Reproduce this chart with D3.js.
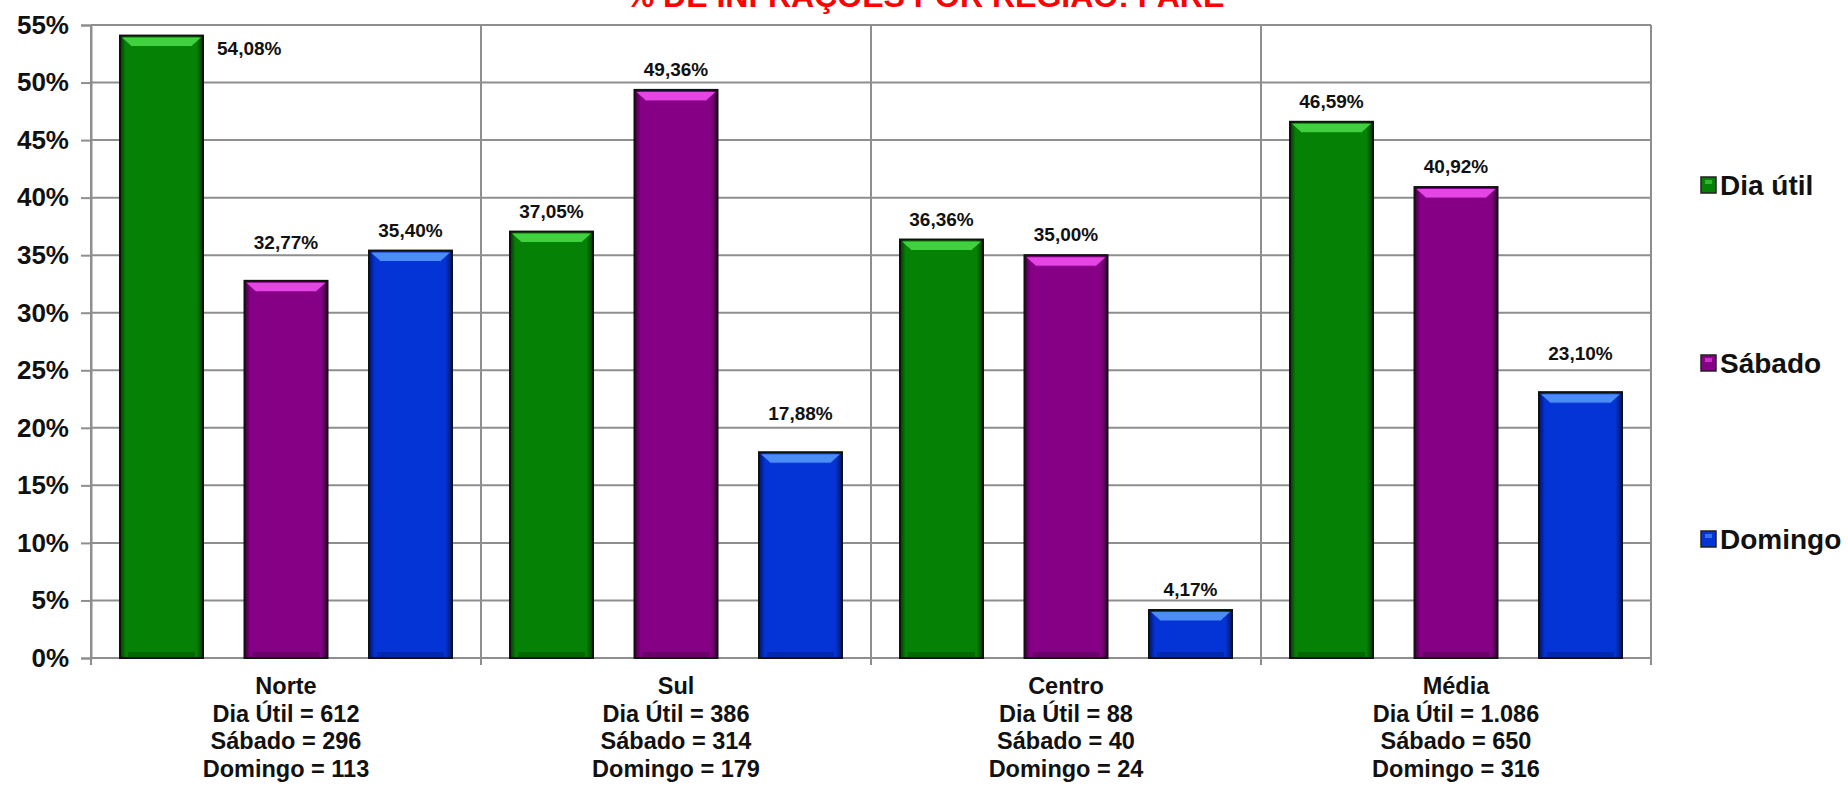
<!DOCTYPE html>
<html>
<head>
<meta charset="utf-8">
<script src="https://cdn.jsdelivr.net/npm/d3@7"></script>
<style>
  html, body { margin: 0; padding: 0; background: #fff; }
  svg { display: block; font-family: "Liberation Sans", Arial, sans-serif; font-weight: bold; }
</style>
</head>
<body>
<script>
// ---- data ----
const categories = ["Norte", "Sul", "Centro", "Média"];
const series = ["Dia útil", "Sábado", "Domingo"];
const diaUtil = [54.08, 37.05, 36.36, 46.59];
const sabado = [32.77, 49.36, 35.00, 40.92];
const domingo = [35.40, 17.88, 4.17, 23.10];
const countDiaUtil = ["612", "386", "88", "1.086"];
const countSabado = ["296", "314", "40", "650"];
const countDomingo = ["113", "179", "24", "316"];
const yTicks = [0, 5, 10, 15, 20, 25, 30, 35, 40, 45, 50, 55];
const title = "% DE INFRAÇÕES POR REGIÃO: PARE";

// labels that sit higher than the others, and the one set beside its bar
const raisedLabels = ["Norte|Sábado", "Sul|Domingo", "Média|Domingo"];
const sideLabels = ["Norte|Dia útil"];

const colors = {
  "Dia útil": { base: "#058205", light: "#40d040", dark: "#013a01" },
  "Sábado": { base: "#850085", light: "#e645e6", dark: "#3a003a" },
  "Domingo": { base: "#0433d6", light: "#4c8cf5", dark: "#011660" }
};

const values = { "Dia útil": diaUtil, "Sábado": sabado, "Domingo": domingo };

const width = 1848, height = 789;
const plotLeft = 91, plotRight = 1651, plotTop = 25, plotBottom = 658;

const locale = d3.formatLocale({ decimal: ",", thousands: ".", grouping: [3], currency: ["", ""] });
const fmt = locale.format(".2f");

const svg = d3.select("body").append("svg")
  .attr("width", width)
  .attr("height", height);

const defs = svg.append("defs");
series.forEach((s, i) => {
  const g = defs.append("linearGradient").attr("id", "grad" + i)
    .attr("x1", 0).attr("x2", 1).attr("y1", 0).attr("y2", 0);
  g.append("stop").attr("offset", "0%").attr("stop-color", colors[s].dark);
  g.append("stop").attr("offset", "7%").attr("stop-color", colors[s].base);
  g.append("stop").attr("offset", "92%").attr("stop-color", colors[s].base);
  g.append("stop").attr("offset", "100%").attr("stop-color", colors[s].dark);
});

// scales
const x0 = d3.scaleBand().domain(categories).range([plotLeft, plotRight]);
const groupW = 373.5;
const x1 = d3.scaleBand().domain(series).range([0, groupW]).paddingInner(1 / 3).paddingOuter(1 / 6);
const groupOff = (x0.bandwidth() - groupW) / 2;
const y = d3.scaleLinear().domain([0, 55]).range([plotBottom, plotTop]);

const grid = "#8e8e8e";

// horizontal gridlines
svg.append("g").selectAll("line")
  .data(yTicks)
  .join("line")
  .attr("x1", plotLeft).attr("x2", plotRight)
  .attr("y1", d => y(d)).attr("y2", d => y(d))
  .attr("stroke", grid).attr("stroke-width", 2);

// category separators + plot border
const vx = categories.map(c => x0(c)).concat([plotRight]);
svg.append("g").selectAll("line")
  .data(vx)
  .join("line")
  .attr("x1", d => d).attr("x2", d => d)
  .attr("y1", plotTop).attr("y2", plotBottom + 7)
  .attr("stroke", grid).attr("stroke-width", 2);

// y axis
const yAxis = svg.append("g")
  .attr("transform", `translate(${plotLeft},0)`)
  .call(d3.axisLeft(y).tickValues(yTicks).tickFormat(d => d + "%").tickSize(10).tickPadding(12));
yAxis.select(".domain").attr("stroke", grid).attr("stroke-width", 2);
yAxis.selectAll(".tick line").attr("stroke", grid).attr("stroke-width", 2);
yAxis.selectAll(".tick text")
  .attr("fill", "#111")
  .style("font-size", "26px")
  .style("font-weight", "bold")
  .style("font-family", "'Liberation Sans', Arial, sans-serif");

// bars
const barData = [];
categories.forEach((c, ci) => {
  series.forEach((s, si) => {
    barData.push({ cat: c, ser: s, si: si, v: values[s][ci] });
  });
});

const bars = svg.append("g").selectAll("g")
  .data(barData)
  .join("g")
  .attr("transform", d => `translate(${x0(d.cat) + groupOff + x1(d.ser)},${y(d.v)})`);

const bw = x1.bandwidth();
bars.append("rect")
  .attr("width", bw)
  .attr("height", d => plotBottom - y(d.v))
  .attr("fill", d => `url(#grad${d.si})`)
  .attr("stroke", "#111")
  .attr("stroke-width", 2);

// top bevel highlight
bars.append("path")
  .attr("d", `M2,2 L${bw - 2},2 L${bw - 12},11 L12,11 Z`)
  .attr("fill", d => colors[d.ser].light);
bars.append("path")
  .attr("d", `M12,11 L${bw - 12},11`)
  .attr("stroke", d => colors[d.ser].base)
  .attr("stroke-width", 1);

// bottom shading strip
bars.append("rect")
  .attr("x", 8)
  .attr("y", d => plotBottom - y(d.v) - 6)
  .attr("width", bw - 16)
  .attr("height", d => Math.min(5, plotBottom - y(d.v)))
  .attr("fill", d => colors[d.ser].dark)
  .attr("opacity", 0.35);

// value labels
svg.append("g").selectAll("text")
  .data(barData)
  .join("text")
  .attr("x", d => {
    const bx = x0(d.cat) + groupOff + x1(d.ser);
    return sideLabels.includes(d.cat + "|" + d.ser) ? bx + bw + 14 : bx + bw / 2;
  })
  .attr("y", d => {
    const key = d.cat + "|" + d.ser;
    if (sideLabels.includes(key)) return y(d.v) + 19;
    return y(d.v) - (raisedLabels.includes(key) ? 32 : 14);
  })
  .attr("text-anchor", d => sideLabels.includes(d.cat + "|" + d.ser) ? "start" : "middle")
  .attr("fill", "#111")
  .style("font-size", "19px")
  .text(d => fmt(d.v) + "%");

// category labels
const catLines = categories.map((c, i) => [
  c,
  "Dia Útil = " + countDiaUtil[i],
  "Sábado = " + countSabado[i],
  "Domingo = " + countDomingo[i]
]);
const catText = svg.append("g").selectAll("text")
  .data(categories)
  .join("text")
  .attr("text-anchor", "middle")
  .attr("fill", "#111")
  .style("font-size", "23.5px");
catText.selectAll("tspan")
  .data((c, i) => catLines[i].map(t => ({ c: c, t: t })))
  .join("tspan")
  .attr("x", d => x0(d.c) + x0.bandwidth() / 2)
  .attr("y", (d, i) => 694 + i * 27.5)
  .text(d => d.t);

// legend
const legendY = [185, 363, 539];
const legend = svg.append("g").selectAll("g")
  .data(series)
  .join("g")
  .attr("transform", (d, i) => `translate(1701,${legendY[i]})`);
legend.append("rect")
  .attr("x", 0).attr("y", -8)
  .attr("width", 15).attr("height", 16)
  .attr("fill", d => colors[d].base)
  .attr("stroke", "#222").attr("stroke-width", 1.5);
legend.append("rect")
  .attr("x", 4).attr("y", -5)
  .attr("width", 7).attr("height", 4)
  .attr("fill", d => colors[d].light)
  .attr("opacity", 0.7);
legend.append("text")
  .attr("x", 19).attr("dy", "0.36em")
  .attr("fill", "#111")
  .style("font-size", "28px")
  .text(d => d);

// title (partly clipped at the top edge, as in the source)
svg.append("text")
  .attr("x", 925).attr("y", 7)
  .attr("text-anchor", "middle")
  .attr("fill", "#ff0000")
  .style("font-size", "32px")
  .text(title);
</script>
</body>
</html>
